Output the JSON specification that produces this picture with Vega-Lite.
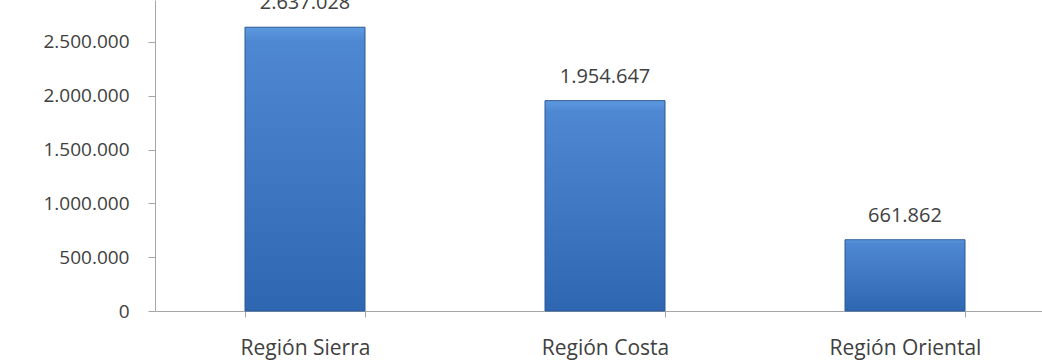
{
  "$schema": "https://vega.github.io/schema/vega-lite/v6.json",
  "autosize": {"type": "none"},
  "padding": {"left": 155, "top": 0, "right": 0, "bottom": 51},
  "width": 900,
  "height": 311,
  "background": "white",
  "config": {"view": {"stroke": null}, "font": "Open Sans",
    "locale": {"number": {"decimal": ",", "thousands": ".", "grouping": [3], "currency": ["", " €"]}}},
  "data": {"values": [
    {"region": "Región Sierra", "poblacion": 2637028},
    {"region": "Región Costa", "poblacion": 1954647},
    {"region": "Región Oriental", "poblacion": 661862}
  ]},
  "encoding": {
    "x": {"field": "region", "type": "nominal", "sort": null,
      "scale": {"paddingInner": 0.6, "paddingOuter": 0.3},
      "axis": {"title": null, "labelAngle": 0, "labelFontSize": 21, "labelColor": "#404040", "labelFont": "Open Sans",
        "domainColor": "#a6a6a6", "tickColor": "#a6a6a6", "tickSize": 6, "tickBand": "extent", "labelPadding": 20}},
    "y": {"field": "poblacion", "type": "quantitative",
      "scale": {"domain": [0, 2890000], "nice": false},
      "axis": {"title": null, "values": [0, 500000, 1000000, 1500000, 2000000, 2500000], "format": ",d",
        "labelFontSize": 19, "labelColor": "#404040", "labelFont": "Open Sans", "labelPadding": 19,
        "domainColor": "#a6a6a6", "tickColor": "#a6a6a6", "tickSize": 7, "grid": false}}
  },
  "layer": [
    {"mark": {"type": "bar", "stroke": "#2a5894", "strokeWidth": 1,
      "fill": {"gradient": "linear", "x1": 0, "y1": 0, "x2": 0, "y2": 1,
        "stops": [{"offset": 0, "color": "#5c9ae0"}, {"offset": 0.05, "color": "#4f88d2"}, {"offset": 1, "color": "#2f66b2"}]}}},
    {"mark": {"type": "text", "baseline": "alphabetic", "dy": -18, "fontSize": 20, "color": "#404040", "font": "Open Sans"},
      "encoding": {"text": {"field": "poblacion", "type": "quantitative", "format": ",d"}}}
  ]
}
